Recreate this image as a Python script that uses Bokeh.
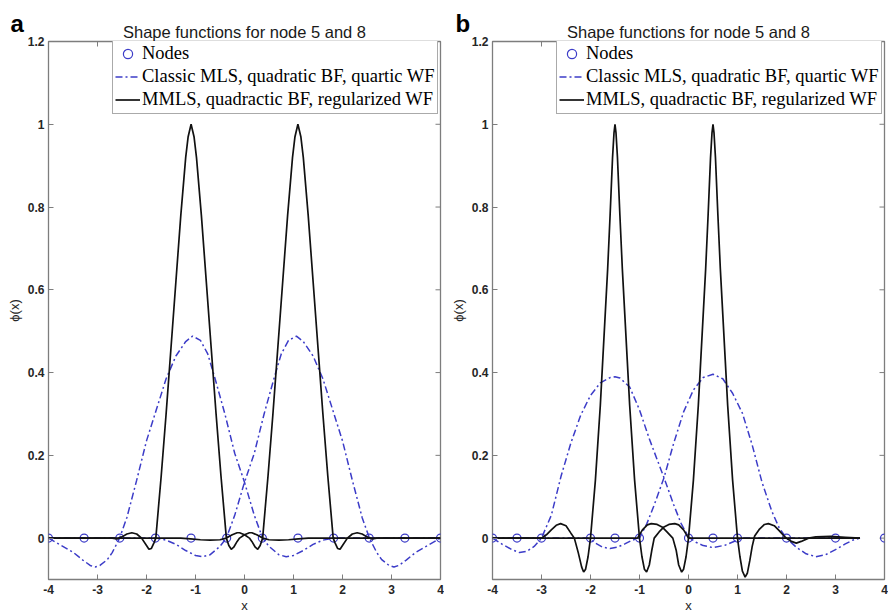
import math
from bokeh.plotting import figure
from bokeh.models import Range1d, FixedTicker, Legend, LegendItem, Title, LinearAxis
from bokeh.layouts import row
from bokeh.embed import file_html
from bokeh.resources import INLINE

# ---------------- data ----------------
x_ticks = [-4, -3, -2, -1, 0, 1, 2, 3, 4]
x_tick_labels = ["-4", "-3", "-2", "-1", "0", "1", "2", "3", "4"]
y_ticks = [0, 0.2, 0.4, 0.6, 0.8, 1.0, 1.2]
y_tick_labels = ["0", "0.2", "0.4", "0.6", "0.8", "1", "1.2"]

title_text = "Shape functions for node 5 and 8"
legend_labels = ["Nodes", "Classic MLS, quadratic BF, quartic WF",
                 "MMLS, quadractic BF, regularized WF"]

# Panel a
a_nodes_x = [-4.0, -3.273, -2.545, -1.818, -1.091, -0.364, 0.364, 1.091, 1.818, 2.545, 3.273, 4.0]
a_nodes_y = [0.0] * 12

a_mls5_x = [-4.0, -3.75, -3.5, -3.3, -3.15, -3.05, -2.95, -2.8, -2.7, -2.6,
            -2.55, -2.4, -2.2, -2.0, -1.8, -1.6, -1.4, -1.2, -1.06, -0.9,
            -0.75, -0.6, -0.4, -0.2, 0.0, 0.2, 0.37, 0.5, 0.7, 0.85,
            1.0, 1.2, 1.4, 1.6, 1.8, 2.5, 3.0, 3.5, 4.0]
a_mls5_y = [0.0, -0.017, -0.034, -0.053, -0.066, -0.07, -0.066, -0.052, -0.035, -0.012,
            0.0, 0.05, 0.14, 0.235, 0.31, 0.385, 0.44, 0.475, 0.488, 0.478,
            0.445, 0.385, 0.30, 0.205, 0.135, 0.055, 0.0, -0.02, -0.04, -0.045,
            -0.042, -0.03, -0.015, -0.005, 0.0, 0.0, 0.0, 0.0, 0.0]

a_mls8_x = [-4.0, -3.5, -3.0, -2.5, -1.8, -1.6, -1.4, -1.2, -1.0, -0.85,
            -0.7, -0.5, -0.37, -0.2, 0.0, 0.2, 0.4, 0.6, 0.75, 0.9,
            1.06, 1.2, 1.4, 1.6, 1.8, 2.0, 2.2, 2.4, 2.55, 2.6,
            2.7, 2.8, 2.95, 3.05, 3.15, 3.3, 3.5, 3.75, 4.0]
a_mls8_y = [0.0, 0.0, 0.0, 0.0, 0.0, -0.005, -0.015, -0.03, -0.042, -0.045,
            -0.04, -0.02, 0.0, 0.055, 0.135, 0.205, 0.30, 0.385, 0.445, 0.478,
            0.488, 0.475, 0.44, 0.385, 0.31, 0.235, 0.14, 0.05, 0.0, -0.012,
            -0.035, -0.052, -0.066, -0.07, -0.066, -0.053, -0.034, -0.017, 0.0]

a_mmls5_x = [-4.0, -3.0, -2.7, -2.6, -2.5, -2.4, -2.3, -2.2, -2.1, -2.0,
             -1.95, -1.9, -1.85, -1.81, -1.7, -1.6, -1.5, -1.4, -1.3, -1.2,
             -1.15, -1.09, -1.03, -0.98, -0.88, -0.78, -0.68, -0.58, -0.48, -0.37,
             -0.32, -0.27, -0.22, -0.15, -0.1, 0.0, 0.1, 0.15, 0.25, 0.37,
             0.5, 0.7, 0.9, 1.1, 1.3, 4.0]
a_mmls5_y = [0.0, 0.0, 0.0, -0.002, 0.003, 0.01, 0.013, 0.01, 0.0, -0.018,
             -0.027, -0.025, -0.012, 0.0, 0.15, 0.30, 0.46, 0.62, 0.78, 0.92,
             0.97, 1.0, 0.97, 0.92, 0.78, 0.62, 0.46, 0.30, 0.15, 0.0,
             -0.018, -0.027, -0.022, -0.008, 0.0, 0.008, 0.013, 0.013, 0.008, 0.0,
             -0.004, -0.005, -0.004, -0.002, 0.0, 0.0]

a_mmls8_x = [-4.0, -1.3, -1.1, -0.9, -0.7, -0.5, -0.37, -0.25, -0.15, -0.1,
             0.0, 0.1, 0.15, 0.22, 0.27, 0.32, 0.37, 0.48, 0.58, 0.68,
             0.78, 0.88, 0.98, 1.03, 1.09, 1.15, 1.2, 1.3, 1.4, 1.5,
             1.6, 1.7, 1.81, 1.85, 1.9, 1.95, 2.0, 2.1, 2.2, 2.3,
             2.4, 2.5, 2.6, 2.7, 3.0, 4.0]
a_mmls8_y = [0.0, 0.0, -0.002, -0.004, -0.005, -0.004, 0.0, 0.008, 0.013, 0.013,
             0.008, 0.0, -0.008, -0.022, -0.027, -0.018, 0.0, 0.15, 0.30, 0.46,
             0.62, 0.78, 0.92, 0.97, 1.0, 0.97, 0.92, 0.78, 0.62, 0.46,
             0.30, 0.15, 0.0, -0.012, -0.025, -0.027, -0.018, 0.0, 0.01, 0.013,
             0.01, 0.003, -0.002, 0.0, 0.0, 0.0]

# Panel b
b_nodes_x = [-4.0, -3.5, -3.0, -2.0, -1.5, -1.0, 0.0, 0.5, 1.0, 2.0, 3.0, 4.0]
b_nodes_y = [0.0] * 12

b_mls5_x = [-4.0, -3.8, -3.6, -3.45, -3.3, -3.15, -3.0, -2.8, -2.6, -2.4,
            -2.2, -2.0, -1.8, -1.6, -1.5, -1.4, -1.2, -1.0, -0.8, -0.5,
            -0.3, -0.15, 0.0, 0.15, 0.3, 0.5, 0.75, 0.95, 1.1, 3.5]
b_mls5_y = [0.0, -0.015, -0.028, -0.035, -0.032, -0.02, 0.0, 0.055, 0.15, 0.23,
            0.297, 0.345, 0.375, 0.388, 0.39, 0.387, 0.365, 0.31, 0.24, 0.146,
            0.08, 0.035, 0.003, -0.01, -0.018, -0.023, -0.017, -0.007, 0.0, 0.0]

b_mls8_x = [-4.0, -2.05, -1.9, -1.75, -1.6, -1.45, -1.3, -1.15, -1.0, -0.85,
            -0.7, -0.5, -0.3, -0.1, 0.1, 0.3, 0.5, 0.7, 0.9, 1.1,
            1.3, 1.5, 1.7, 1.85, 2.0, 2.2, 2.4, 2.6, 2.8, 3.0,
            3.2, 3.35, 3.5]
b_mls8_y = [0.0, 0.0, -0.012, -0.022, -0.025, -0.022, -0.014, -0.005, 0.0, 0.035,
            0.08, 0.146, 0.23, 0.305, 0.358, 0.388, 0.396, 0.385, 0.35, 0.302,
            0.225, 0.135, 0.065, 0.025, 0.0, -0.022, -0.038, -0.045, -0.04, -0.028,
            -0.014, -0.005, 0.0]

b_mmls5_x = [-4.0, -3.0, -2.9, -2.8, -2.7, -2.61, -2.5, -2.4, -2.33, -2.25,
             -2.18, -2.14, -2.1, -2.05, -2.0, -1.9, -1.8, -1.75, -1.7, -1.65,
             -1.6, -1.55, -1.52, -1.5, -1.48, -1.45, -1.4, -1.35, -1.3, -1.25,
             -1.2, -1.1, -1.0, -0.95, -0.9, -0.855, -0.8, -0.75, -0.7, -0.6,
             -0.5, -0.4, -0.28, -0.2, -0.1, -0.03, 0.0, 3.5]
b_mmls5_y = [0.0, 0.0, 0.008, 0.02, 0.031, 0.035, 0.03, 0.012, 0.0, -0.035,
             -0.07, -0.082, -0.075, -0.045, 0.0, 0.14, 0.32, 0.43, 0.54, 0.65,
             0.78, 0.92, 0.98, 1.0, 0.98, 0.92, 0.78, 0.65, 0.54, 0.43,
             0.32, 0.14, 0.0, -0.045, -0.075, -0.082, -0.065, -0.03, 0.0, 0.015,
             0.027, 0.033, 0.035, 0.032, 0.02, 0.006, 0.0, 0.0]

b_mmls8_x = [-4.0, -1.04, -1.01, -0.94, -0.84, -0.76, -0.64, -0.54, -0.44, -0.32,
             -0.25, -0.2, -0.14, -0.1, -0.05, 0.0, 0.1, 0.2, 0.25, 0.3,
             0.35, 0.4, 0.45, 0.48, 0.5, 0.52, 0.55, 0.6, 0.65, 0.7,
             0.75, 0.8, 0.9, 1.0, 1.05, 1.1, 1.156, 1.2, 1.25, 1.3,
             1.35, 1.45, 1.55, 1.63, 1.75, 1.85, 1.95, 2.0, 2.1, 2.2,
             2.3, 2.45, 2.6, 2.9, 3.2, 3.5]
b_mmls8_y = [0.0, 0.0, 0.006, 0.02, 0.032, 0.035, 0.033, 0.027, 0.015, 0.0,
             -0.03, -0.065, -0.082, -0.075, -0.045, 0.0, 0.14, 0.32, 0.43, 0.54,
             0.65, 0.78, 0.92, 0.98, 1.0, 0.98, 0.92, 0.78, 0.65, 0.54,
             0.43, 0.32, 0.14, 0.0, -0.045, -0.08, -0.094, -0.085, -0.055, -0.02,
             0.005, 0.022, 0.033, 0.035, 0.03, 0.018, 0.005, 0.0, -0.008, -0.012,
             -0.008, 0.0, 0.003, 0.004, 0.002, 0.0]

# ---------------- styling ----------------
BLUE = "#3c3cc8"
BLACK = "#111111"
FRAME = "#7d7d7d"
TICKLBL = "#262626"
SANS = "Liberation Sans"
SERIF = "Liberation Serif"
DASHDOT = "7 3 2 3"


def make_panel(letter, letter_offset, nodes_x, nodes_y, mls5, mls8, mmls5, mmls8):
    p = figure(width=444, height=615, x_range=Range1d(-4, 4), y_range=Range1d(-0.1, 1.2),
               output_backend="svg", toolbar_location=None, title=None,
               min_border_left=48, min_border_right=4, min_border_top=41, min_border_bottom=36,
               background_fill_color="white", border_fill_color="white")
    p.grid.visible = False
    p.outline_line_color = FRAME
    p.outline_line_width = 1.3

    # style the bottom and left axes first (before the spacer axis exists)
    xlab = dict(zip(x_ticks, x_tick_labels))
    ylab = dict(zip(y_ticks, y_tick_labels))
    bottom_axes = list(p.below)
    left_axes = list(p.left)
    for ax in bottom_axes:
        ax.ticker = FixedTicker(ticks=x_ticks)
        ax.major_label_overrides = xlab
        ax.axis_label = "x"
        ax.axis_label_standoff = 1
        ax.major_label_standoff = 5
    for ax in left_axes:
        ax.ticker = FixedTicker(ticks=y_ticks)
        ax.major_label_overrides = ylab
        ax.axis_label = "ϕ(x)"
        ax.axis_label_standoff = 3
        ax.major_label_standoff = 4
    for ax in bottom_axes + left_axes:
        ax.axis_line_color = None
        ax.major_tick_in = 5
        ax.major_tick_out = 0
        ax.major_tick_line_color = FRAME
        ax.minor_tick_line_color = None
        ax.major_label_text_font = SANS
        ax.major_label_text_font_size = "12px"
        ax.major_label_text_font_style = "bold"
        ax.major_label_text_color = TICKLBL
        ax.axis_label_text_font = SANS
        ax.axis_label_text_font_size = "13px"
        ax.axis_label_text_font_style = "normal"
        ax.axis_label_text_color = TICKLBL

    # empty axis without ticks or labels kept above the box (no visible content)
    spacer = LinearAxis(ticker=FixedTicker(ticks=[]), major_tick_out=11, major_tick_in=0,
                        major_label_standoff=0, axis_line_color=None,
                        minor_tick_line_color=None)
    main_title = Title(text=title_text, align="center", vertical_align="top",
                       text_font=SANS, text_font_size="16.5px",
                       text_font_style="normal", text_color="#1a1a1a", standoff=-2)
    letter_title = Title(text=letter, align="left", offset=letter_offset, text_font=SANS,
                         text_font_size="24px", text_font_style="bold", text_color="#000000",
                         standoff=-26)
    p.add_layout(spacer, "above")
    p.add_layout(main_title, "above")
    p.add_layout(letter_title, "above")

    # inward ticks on the top and right edges of the box (MATLAB style)
    p.scatter(x_ticks, [1.2] * len(x_ticks), marker="dash", angle=math.pi / 2, size=10,
              line_color=FRAME, line_width=1)
    p.scatter([4] * len(y_ticks), y_ticks, marker="dash", size=10,
              line_color=FRAME, line_width=1)

    r_nodes = p.scatter(nodes_x, nodes_y, marker="circle", size=8, fill_color=None,
                        line_color=BLUE, line_width=1.2)
    r_m5 = p.line(mls5[0], mls5[1], line_color=BLUE, line_width=1.5, line_dash=DASHDOT)
    p.line(mls8[0], mls8[1], line_color=BLUE, line_width=1.5, line_dash=DASHDOT)
    r_k5 = p.line(mmls5[0], mmls5[1], line_color=BLACK, line_width=1.7)
    p.line(mmls8[0], mmls8[1], line_color=BLACK, line_width=1.7)

    legend = Legend(items=[LegendItem(label=legend_labels[0], renderers=[r_nodes]),
                           LegendItem(label=legend_labels[1], renderers=[r_m5]),
                           LegendItem(label=legend_labels[2], renderers=[r_k5])],
                    location=(64, 465))
    legend.label_text_font = SERIF
    legend.label_text_font_size = "18.5px"
    legend.label_text_color = "#000000"
    legend.glyph_width = 25
    legend.glyph_height = 23
    legend.label_height = 23
    legend.label_standoff = 2
    legend.spacing = 0
    legend.padding = 2
    legend.margin = 0
    legend.border_line_color = "#555555"
    legend.border_line_width = 1
    legend.background_fill_color = "white"
    legend.background_fill_alpha = 1.0
    p.add_layout(legend)
    return p


pa = make_panel("a", -38, a_nodes_x, a_nodes_y, (a_mls5_x, a_mls5_y), (a_mls8_x, a_mls8_y),
                (a_mmls5_x, a_mmls5_y), (a_mmls8_x, a_mmls8_y))
pb = make_panel("b", -37, b_nodes_x, b_nodes_y, (b_mls5_x, b_mls5_y), (b_mls8_x, b_mls8_y),
                (b_mmls5_x, b_mmls5_y), (b_mmls8_x, b_mmls8_y))

layout = row(pa, pb)
open("out.html", "w").write(file_html(layout, INLINE))
